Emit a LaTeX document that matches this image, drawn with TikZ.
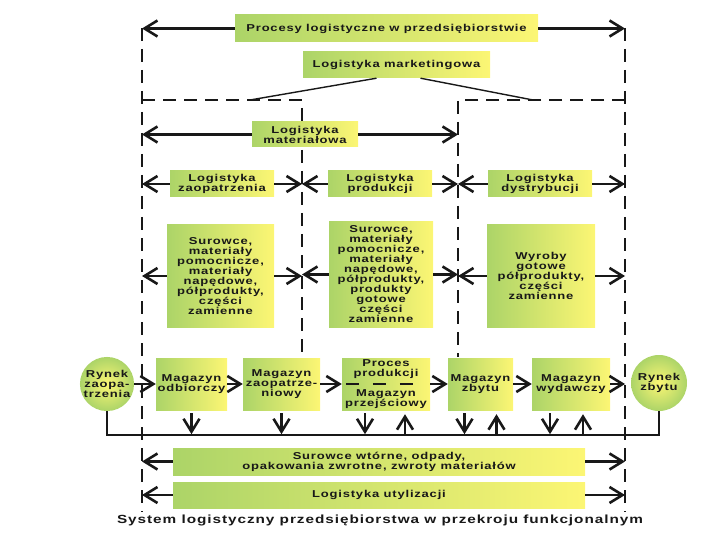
\documentclass[tikz,border=0pt]{standalone}
\usepackage{fontspec}
\setmainfont{Liberation Sans}[FakeStretch=1.3,LetterSpace=8]
\usetikzlibrary{arrows.meta}
\definecolor{lgreen}{RGB}{172,212,104}
\definecolor{lyellow}{RGB}{252,246,116}
\definecolor{ink}{RGB}{24,24,24}
\begin{document}
\begin{tikzpicture}[x=1pt,y=-1pt,
box/.style={left color=lgreen,right color=lyellow,inner sep=0pt,align=center,text=ink,font=\bfseries\fontsize{10}{10}\selectfont},
rynek/.style={circle,inner color=lyellow,outer color=lgreen,inner sep=0pt,align=center,text=ink,font=\bfseries\fontsize{10}{10}\selectfont},
arr/.style={ink,line width=2.4pt,-{Straight Barb[length=13pt,width=16pt,line width=2.6pt]}},
sep/.style={ink,line width=2.8pt,dash pattern=on 13pt off 8pt},
bus/.style={ink,line width=2.4pt}]
\path[use as bounding box] (0,0) rectangle (720,540);
\coordinate (L) at (142,0);
\coordinate (S1) at (302,0);
\coordinate (S2) at (458,0);
\coordinate (R) at (625,0);
\coordinate (bus) at (0,435);
\draw[sep] (142,28) -- (142,512);
\draw[sep] (625,28) -- (625,512);
\draw[sep] (142,100) -- (302,100) -- (302,357);
\draw[sep] (625,100) -- (458,100) -- (458,357);
\node[box,minimum width=303pt,minimum height=27pt] (procesy) at (386.5,28.5) {Procesy logistyczne w przedsiębiorstwie};
\node[box,minimum width=187pt,minimum height=26pt] (marketing) at (396.5,65) {Logistyka marketingowa};
\node[box,minimum width=106pt,minimum height=25pt] (material) at (305,134.5) {Logistyka\\materiałowa};
\node[box,minimum width=104pt,minimum height=26pt] (zaop) at (222,184) {Logistyka\\zaopatrzenia};
\node[box,minimum width=104pt,minimum height=26pt] (prod) at (380,184) {Logistyka\\produkcji};
\node[box,minimum width=104pt,minimum height=26pt] (dystr) at (540,184) {Logistyka\\dystrybucji};
\node[box,minimum width=107pt,minimum height=102pt] (sur1) at (220.5,276) {Surowce,\\materiały\\pomocnicze,\\materiały\\napędowe,\\półprodukty,\\części\\zamienne};
\node[box,minimum width=104pt,minimum height=105pt] (sur2) at (381,274.5) {Surowce,\\materiały\\pomocnicze,\\materiały\\napędowe,\\półprodukty,\\produkty\\gotowe\\części\\zamienne};
\node[box,minimum width=108pt,minimum height=102pt] (wyroby) at (541,276) {Wyroby\\gotowe\\półprodukty,\\części\\zamienne};
\node[rynek,minimum size=50pt] (rynek1) at (107,384) {Rynek\\zaopa-\\trzenia};
\node[box,minimum width=71pt,minimum height=52pt] (odb) at (191.5,384) {Magazyn\\odbiorczy};
\node[box,minimum width=77pt,minimum height=52pt] (zaopm) at (281.5,384) {Magazyn\\zaopatrze-\\niowy};
\node[box,minimum width=88pt,minimum height=52pt] (proces) at (386,384) {Proces\\produkcji\\[10pt]Magazyn\\przejściowy};
\node[box,minimum width=65pt,minimum height=52pt] (zbytu) at (480.5,384) {Magazyn\\zbytu};
\node[box,minimum width=78pt,minimum height=52pt] (wyd) at (571,384) {Magazyn\\wydawczy};
\node[rynek,minimum size=56pt] (rynek2) at (659,383) {Rynek\\zbytu};
\node[box,minimum width=412pt,minimum height=27pt] (wtorne) at (379,461.5) {Surowce wtórne, odpady,\\opakowania zwrotne, zwroty materiałów};
\node[box,minimum width=412pt,minimum height=26pt] (utyl) at (379,495) {Logistyka utylizacji};
\node[text=ink,font=\bfseries\fontsize{11.8}{12}\selectfont] (caption) at (380,520) {System logistyczny przedsiębiorstwa w przekroju funkcjonalnym};
\draw[ink,line width=1.4pt] ([xshift=-20pt]marketing.south) -- (250,100);
\draw[ink,line width=1.4pt] ([xshift=24pt]marketing.south) -- (533,100);
\draw[ink,line width=2pt,dash pattern=on 13pt off 14pt] ([xshift=4pt]proces.west) -- ([xshift=-14pt]proces.east);
\draw[arr] (procesy.west) -- (L |- procesy);
\draw[arr] (procesy.east) -- (R |- procesy);
\draw[arr] (material.west) -- (L |- material);
\draw[arr] (material.east) -- (S2 |- material);
\foreach \n/\a/\b in {zaop/L/S1,prod/S1/S2,dystr/S2/R,sur1/L/S1,sur2/S1/S2,wyroby/S2/R}{
\draw[arr] (\n.west) -- (\a |- \n);
\draw[arr] (\n.east) -- (\b |- \n);
}
\foreach \a/\b in {rynek1/odb,odb/zaopm,zaopm/proces,proces/zbytu,zbytu/wyd}
\draw[arr] (\a) -- (\b);
\draw[arr] (wyd.east) -- (R |- wyd);
\draw[bus] (rynek1.south) -- (rynek1.south |- bus) -- (rynek2.south |- bus) -- (rynek2.south);
\foreach \n/\dx in {odb/0,zaopm/0,proces/-21,zbytu/-16,wyd/-21}
\draw[arr] ([xshift=\dx pt,yshift=-3pt]\n.south) -- ++(0,21);
\foreach \n/\dx in {proces/19,zbytu/16,wyd/12}
\draw[arr] ([xshift=\dx pt,yshift=-24pt]\n.south) -- ++(0,-20);
\draw[arr] (wtorne.west) -- (L |- wtorne);
\draw[arr] (wtorne.east) -- (R |- wtorne);
\draw[arr] (utyl.west) -- (L |- utyl);
\draw[arr] (utyl.east) -- (R |- utyl);
\end{tikzpicture}
\end{document}
